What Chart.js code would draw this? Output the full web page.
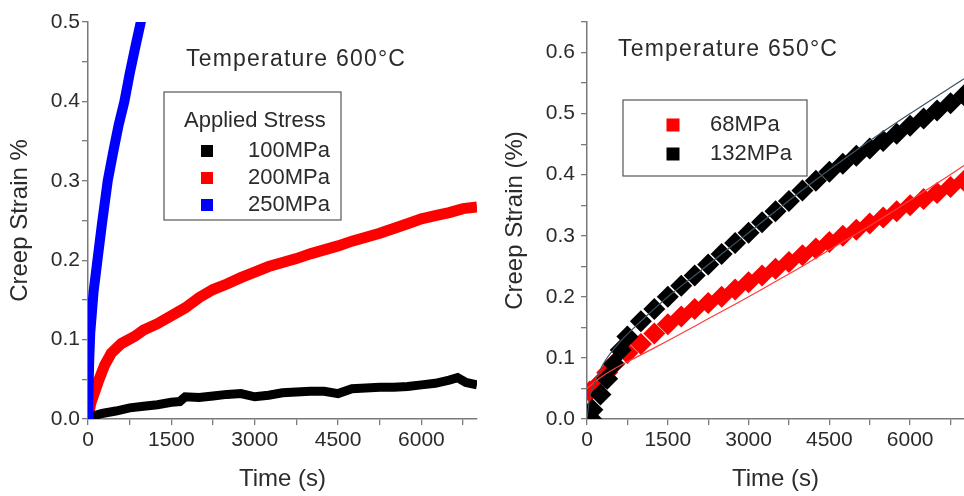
<!DOCTYPE html>
<html>
<head>
<meta charset="utf-8">
<script src="https://cdn.jsdelivr.net/npm/chart.js@4.4.1/dist/chart.umd.min.js"></script>
<style>
  html, body { margin: 0; padding: 0; background: #fff; overflow: hidden; }
  #wrap { position: relative; width: 964px; height: 496px; overflow: hidden; }
  .box { position: absolute; top: 0; height: 496px; }
  #left { left: 0; width: 482px; }
  #right { left: 482px; width: 493px; }
</style>
</head>
<body>
<div id="wrap">
  <div class="box" id="left"><canvas id="c600"></canvas></div>
  <div class="box" id="right"><canvas id="c650"></canvas></div>
</div>
<script>
// tick positions (labels only on every second one)
const xTicks = [0, 750, 1500, 2250, 3000, 3750, 4500, 5250, 6000, 6750];
const yTicks600 = [0, 0.05, 0.1, 0.15, 0.2, 0.25, 0.3, 0.35, 0.4, 0.45, 0.5];
const yTicks650 = [0, 0.05, 0.1, 0.15, 0.2, 0.25, 0.3, 0.35, 0.4, 0.45, 0.5, 0.55, 0.6, 0.65];

// ---- 600°C panel ----
const note600 = "Temperature 600°C";
const legendTitle600 = "Applied Stress";

const t100 = [0, 100, 250, 500, 750, 1000, 1250, 1500, 1650, 1750, 2000, 2250, 2500, 2750, 3000, 3250, 3500, 3750, 4000, 4250, 4500, 4750, 5000, 5250, 5500, 5750, 6000, 6250, 6500, 6650, 6800, 7000];
const s100 = [0, 0.004, 0.007, 0.01, 0.014, 0.016, 0.018, 0.021, 0.022, 0.028, 0.027, 0.029, 0.031, 0.032, 0.028, 0.03, 0.033, 0.034, 0.035, 0.035, 0.032, 0.038, 0.039, 0.04, 0.04, 0.041, 0.043, 0.045, 0.049, 0.052, 0.046, 0.043];

const t200 = [0, 50, 100, 200, 300, 420, 600, 840, 1000, 1250, 1500, 1750, 2000, 2250, 2500, 2750, 3000, 3250, 3500, 3750, 4000, 4250, 4500, 4750, 5000, 5250, 5500, 5750, 6000, 6250, 6500, 6750, 7000];
const s200 = [0, 0.02, 0.03, 0.05, 0.068, 0.083, 0.095, 0.104, 0.112, 0.12, 0.13, 0.14, 0.153, 0.163, 0.17, 0.178, 0.185, 0.192, 0.197, 0.202, 0.208, 0.213, 0.218, 0.224, 0.229, 0.234, 0.24, 0.246, 0.252, 0.256, 0.26, 0.265, 0.267];

const t250 = [0, 20, 40, 100, 170, 250, 355, 450, 550, 655, 750, 850, 950, 990];
const s250 = [0, 0.07, 0.108, 0.16, 0.2, 0.245, 0.3, 0.335, 0.37, 0.4, 0.435, 0.468, 0.5, 0.515];

// ---- 650°C panel ----
const note650 = "Temperature 650°C";

const t68 = [0, 50, 250, 375, 500, 750, 1000, 1250, 1500, 1750, 2000, 2250, 2500, 2750, 3000, 3250, 3500, 3750, 4000, 4250, 4500, 4750, 5000, 5250, 5500, 5750, 6000, 6250, 6500, 6750, 7000];
const s68 = [0, 0.045, 0.06, 0.076, 0.09, 0.108, 0.123, 0.14, 0.155, 0.168, 0.18, 0.19, 0.2, 0.212, 0.224, 0.235, 0.246, 0.257, 0.268, 0.279, 0.29, 0.3, 0.31, 0.32, 0.33, 0.34, 0.35, 0.36, 0.37, 0.38, 0.39];

const t132 = [80, 100, 250, 375, 500, 625, 750, 1000, 1250, 1500, 1750, 2000, 2250, 2500, 2750, 3000, 3250, 3500, 3750, 4000, 4250, 4500, 4750, 5000, 5250, 5500, 5750, 6000, 6250, 6500, 6750, 7000];
const s132 = [0, 0.015, 0.04, 0.066, 0.09, 0.113, 0.135, 0.16, 0.18, 0.2, 0.218, 0.235, 0.253, 0.27, 0.288, 0.305, 0.322, 0.34, 0.357, 0.374, 0.39, 0.405, 0.418, 0.431, 0.443, 0.455, 0.467, 0.48, 0.492, 0.505, 0.517, 0.53];

// fitted curves
const tFit68 = [0, 250, 500, 1000, 1500, 2000, 2500, 3000, 3500, 4000, 4500, 5000, 5500, 6000, 6500, 7000];
const sFit68 = [0.05, 0.068, 0.082, 0.105, 0.128, 0.152, 0.176, 0.2, 0.225, 0.25, 0.277, 0.303, 0.33, 0.358, 0.386, 0.415];
const tFit132 = [0, 50, 100, 300, 600, 1000, 1500, 2000, 2500, 3000, 4000, 5000, 6000, 7000];
const sFit132 = [0, 0.035, 0.05, 0.09, 0.125, 0.16, 0.2, 0.235, 0.27, 0.305, 0.375, 0.44, 0.5, 0.557];

const FONT = "'Liberation Sans', Arial, sans-serif";
const TXT = "#2b2b2b";
const AXIS = "#7a7a7a";

function pts(ts, vs) {
    return ts.map((t, i) => ({ x: t, y: vs[i] }));
}

// legend box + temperature note, drawn inside the plot
const boxLegend = {
    id: "boxLegend",
    afterDraw(chart, args, o) {
        const ctx = chart.ctx;
        ctx.save();
        ctx.fillStyle = TXT;
        ctx.textBaseline = "middle";
        ctx.font = o.noteSize + "px " + FONT;
        ctx.letterSpacing = o.noteSpacing + "px";
        ctx.fillText(o.note, o.noteX, o.noteY);
        ctx.letterSpacing = "0px";

        ctx.strokeStyle = "#555";
        ctx.lineWidth = 1.2;
        ctx.strokeRect(o.x, o.y, o.w, o.h);

        ctx.font = o.size + "px " + FONT;
        if (o.title) ctx.fillText(o.title, o.titleX, o.titleY);
        let row = 0;
        chart.data.datasets.forEach(ds => {
            if (ds.hideInLegend) return;
            const cy = o.rowY + row * o.rowGap;
            ctx.fillStyle = ds.backgroundColor;
            ctx.fillRect(o.markX - o.mark / 2, cy - o.mark / 2, o.mark, o.mark);
            ctx.fillStyle = TXT;
            ctx.fillText(ds.label, o.textX, cy);
            row++;
        });
        ctx.restore();
    }
};

function axes(yTicks, yMax, yWidth, yTitle, yTitlePad, yTickPad) {
    const grid = { drawOnChartArea: false, drawTicks: true, tickLength: 6, color: AXIS, tickColor: AXIS, lineWidth: 1.3 };
    const border = { display: true, color: AXIS, width: 1.5 };
    return {
        x: {
            type: "linear", min: 0, max: 7000,
            grid: grid, border: border,
            afterFit: s => { s.height = 77; },
            afterBuildTicks: s => { s.ticks = xTicks.map(v => ({ value: v })); },
            ticks: {
                autoSkip: false, maxRotation: 0,
                color: TXT, font: { family: FONT, size: 21 }, padding: 3,
                callback: v => (v % 1500 === 0 ? String(v) : "")
            },
            title: { display: true, text: "Time (s)", color: TXT, font: { family: FONT, size: 24 }, padding: { top: 0, bottom: 2 } }
        },
        y: {
            type: "linear", min: 0, max: yMax,
            grid: grid, border: border,
            afterFit: s => { s.width = yWidth; },
            afterBuildTicks: s => { s.ticks = yTicks.map(v => ({ value: v })); },
            ticks: {
                autoSkip: false,
                color: TXT, font: { family: FONT, size: 21 }, padding: yTickPad,
                callback: v => (Math.round(v * 100) % 10 === 0 ? v.toFixed(1) : "")
            },
            title: { display: true, text: yTitle, color: TXT, font: { family: FONT, size: 24 }, padding: { top: yTitlePad, bottom: 0 } }
        }
    };
}

Chart.defaults.animation = false;

new Chart(document.getElementById("c600"), {
    type: "scatter",
    data: {
        datasets: [
            { label: "100MPa", data: pts(t100, s100), showLine: true, borderColor: "#000000", backgroundColor: "#000000", borderWidth: 9, pointRadius: 0, order: 1 },
            { label: "200MPa", data: pts(t200, s200), showLine: true, borderColor: "#ff0000", backgroundColor: "#ff0000", borderWidth: 11, pointRadius: 0, order: 2 },
            { label: "250MPa", data: pts(t250, s250), showLine: true, borderColor: "#0000ff", backgroundColor: "#0000ff", borderWidth: 10, pointRadius: 0, order: 0 }
        ]
    },
    options: {
        responsive: true,
        maintainAspectRatio: false,
        layout: { padding: { top: 22, right: 5, left: 0, bottom: 0 } },
        scales: axes(yTicks600, 0.5, 88, "Creep Strain %", 6, 2),
        plugins: {
            legend: { display: false },
            tooltip: { enabled: false },
            boxLegend: {
                note: note600, noteX: 186, noteY: 60, noteSize: 23, noteSpacing: 1.2,
                x: 164, y: 92, w: 177, h: 128,
                title: legendTitle600, titleX: 184, titleY: 121,
                size: 22, mark: 12, markX: 207, textX: 248, rowY: 151, rowGap: 27
            }
        }
    },
    plugins: [boxLegend]
});

new Chart(document.getElementById("c650"), {
    type: "scatter",
    data: {
        datasets: [
            { label: "68MPa", data: pts(t68, s68), borderColor: "#ff0000", backgroundColor: "#ff0000", pointStyle: "rectRot", pointRadius: 11, borderWidth: 0, order: 3 },
            { label: "132MPa", data: pts(t132, s132), borderColor: "#000000", backgroundColor: "#000000", pointStyle: "rectRot", pointRadius: 11, borderWidth: 0, order: 2 },
            { label: "fit 68MPa", hideInLegend: true, data: pts(tFit68, sFit68), showLine: true, tension: 0.3, borderColor: "#ff3c3c", backgroundColor: "#ff3c3c", borderWidth: 1.2, pointRadius: 0, order: 1 },
            { label: "fit 132MPa", hideInLegend: true, data: pts(tFit132, sFit132), showLine: true, tension: 0.3, borderColor: "#3d5566", backgroundColor: "#3d5566", borderWidth: 1.2, pointRadius: 0, order: 0 }
        ]
    },
    options: {
        responsive: true,
        maintainAspectRatio: false,
        layout: { padding: { top: 22, right: 0, left: 0, bottom: 0 } },
        scales: axes(yTicks650, 0.65, 105, "Creep Strain (%)", 19, 6),
        plugins: {
            legend: { display: false },
            tooltip: { enabled: false },
            boxLegend: {
                note: note650, noteX: 136, noteY: 50, noteSize: 23, noteSpacing: 1.2,
                x: 141, y: 100, w: 184, h: 76,
                title: "", titleX: 0, titleY: 0,
                size: 22, mark: 13, markX: 191, textX: 228, rowY: 125, rowGap: 29
            }
        }
    },
    plugins: [boxLegend]
});
</script>
</body>
</html>
